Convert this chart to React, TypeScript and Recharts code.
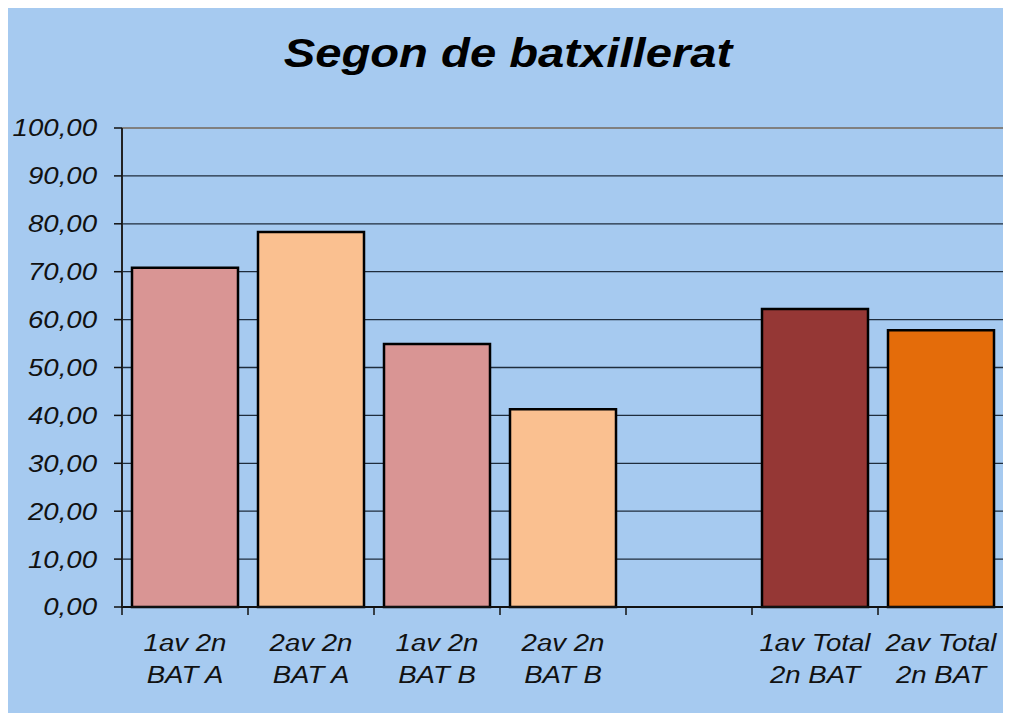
import { BarChart, Bar, XAxis, YAxis, CartesianGrid, ReferenceLine, Cell } from "recharts";

const categories = ["1av 2n|BAT A", "2av 2n|BAT A", "1av 2n|BAT B", "2av 2n|BAT B", "", "1av Total|2n BAT", "2av Total|2n BAT"];
const values = [70.8, 78.3, 54.9, 41.3, null, 62.2, 57.8];
const yTicks = [0, 10, 20, 30, 40, 50, 60, 70, 80, 90, 100];

const BG = "#a6caf0";
const barColors = ["#d99594", "#fac090", "#d99594", "#fac090", BG, "#953735", "#e46c0a"];
const FONT = "'Liberation Sans', Arial, sans-serif";
const STRETCH = 1.15;

const data = categories.map((name, i) => ({ name, value: values[i] }));

const fmt = (v: number) => v.toFixed(2).replace(".", ",");

const YTick = ({ x, y, payload }: any) => (
  <g transform={`translate(${x},${y}) scale(${STRETCH},1)`}>
    <text x={0} y={0} dy="0.35em" textAnchor="end" fontSize={24} fontStyle="italic" fontFamily={FONT} fill="#111">
      {fmt(payload.value)}
    </text>
  </g>
);

const XTick = ({ x, y, payload, index, width, visibleTicksCount }: any) => {
  const bw = width && visibleTicksCount ? width / visibleTicksCount : 126;
  const lines = String(payload.value).split("|").filter(Boolean);
  return (
    <g>
      {index === 0 && <line x1={x - bw / 2} x2={x - bw / 2} y1={y} y2={y + 8} stroke="#111" strokeWidth={1.5} />}
      <line x1={x + bw / 2} x2={x + bw / 2} y1={y} y2={y + 8} stroke="#111" strokeWidth={1.5} />
      <g transform={`translate(${x},${y}) scale(${STRETCH},1)`}>
        {lines.map((t, i) => (
          <text key={i} x={0} y={44 + i * 32} textAnchor="middle" fontSize={24} fontStyle="italic" fontFamily={FONT} fill="#111">
            {t}
          </text>
        ))}
      </g>
    </g>
  );
};

export default function App() {
  return (
    <div style={{ position: "relative", width: 1002, height: 705, background: BG, borderRight: "1px solid #777", boxSizing: "border-box" }}>
      <div
        style={{
          position: "absolute",
          left: 0,
          width: 1000,
          top: 22,
          textAlign: "center",
          fontFamily: FONT,
          fontWeight: "bold",
          fontStyle: "italic",
          fontSize: 40,
          lineHeight: "46px",
          color: "#000",
          transform: `scaleX(1.18)`,
          transformOrigin: "500px 0",
        }}
      >
        Segon de batxillerat
      </div>
      <BarChart
        width={1001}
        height={705}
        data={data}
        margin={{ top: 120, right: 0, left: 0, bottom: 0 }}
        barCategoryGap={10}
        style={{ position: "absolute", left: 0, top: 0 }}
      >
        <CartesianGrid vertical={false} stroke="#1f2d3d" strokeWidth={1.3} yAxisId="left" />
        <XAxis
          dataKey="name"
          height={106}
          tick={<XTick />}
          tickLine={false}
          tickSize={0}
          tickMargin={0}
          interval={0}
          axisLine={{ stroke: "#111", strokeWidth: 2 }}
        />
        <YAxis
          yAxisId="left"
          domain={[0, 100]}
          ticks={yTicks}
          width={114}
          tick={<YTick />}
          tickSize={8}
          tickMargin={17}
          tickLine={{ stroke: "#111", strokeWidth: 1.5 }}
          axisLine={{ stroke: "#222", strokeWidth: 2 }}
          interval={0}
        />
        <YAxis
          yAxisId="right"
          orientation="right"
          domain={[0, 100]}
          width={5}
          tick={false}
          tickLine={false}
          axisLine={{ stroke: "#808080", strokeWidth: 2 }}
        />
        <ReferenceLine yAxisId="left" y={100} stroke="#808080" strokeWidth={2} />
        <Bar yAxisId="left" dataKey="value" stroke="#000" strokeWidth={2.5} isAnimationActive={false}>
          {data.map((_, i) => (
            <Cell key={i} fill={barColors[i]} />
          ))}
        </Bar>
      </BarChart>
    </div>
  );
}
